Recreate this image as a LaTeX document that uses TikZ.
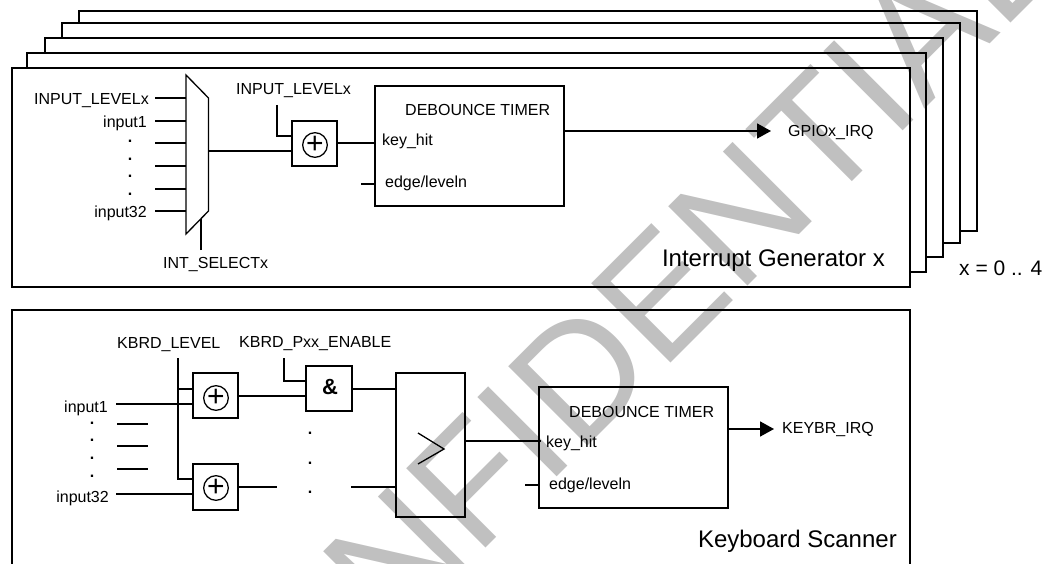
\documentclass[tikz,border=0pt]{standalone}
\usepackage{fontspec}
\setmainfont{Liberation Sans}
\usetikzlibrary{arrows.meta, positioning}
\definecolor{stampgray}{HTML}{C0C0C0}

\begin{document}
\begin{tikzpicture}[
  x=1pt, y=-1pt,
  wire/.style={line width=1.7pt, line cap=butt},
  thinwire/.style={line width=1.3pt},
  box/.style={rectangle, draw, line width=1.7pt, inner sep=0pt, outer sep=0pt},
  xorbox/.style={box, minimum width=45pt, minimum height=45pt},
  xorsign/.style={circle, draw, line width=1.3pt, minimum size=24pt, inner sep=0pt},
  timerbox/.style={box, minimum width=189pt, minimum height=120pt},
  lbl/.style={inner sep=0pt, font=\fontsize{16}{18}\selectfont, text height=12pt, text depth=0pt},
  biglbl/.style={inner sep=0pt, font=\fontsize{24}{28}\selectfont},
  arrow/.style={wire, -{Triangle[length=14pt, width=15pt]}}
]
  \path[use as bounding box, clip] (0,0) rectangle (1044,564);

  % Watermark
  \node[text=stampgray, font=\fontsize{163}{180}\selectfont, rotate=45, inner sep=0pt, anchor=base west] (stamp) at (220,814) {CONFIDENTIAL};

  % Stack of generators
  \draw[wire] (27,68) -- (27,53) -- (926,53) -- (926,272) -- (910,272);
  \draw[wire] (45,53) -- (45,38) -- (943,38) -- (943,257) -- (926,257);
  \draw[wire] (62,38) -- (62,23) -- (960,23) -- (960,243) -- (943,243);
  \draw[wire] (79,23) -- (79,11) -- (977,11) -- (977,231) -- (960,231);
  \node[box, minimum width=898pt, minimum height=219pt, anchor=north west] (genbox) at (12,68) {};
  \node[biglbl, anchor=base east] (genlbl) at (885,266) {Interrupt Generator x};
  \node[inner sep=0pt, font=\fontsize{21}{24}\selectfont, anchor=base west] (rangelbl) at (959,275) {x = 0 .. 4};

  % Selector
  \coordinate (muxtl) at (186,75);
  \coordinate (muxtr) at (208.5,98);
  \coordinate (muxbr) at (208.5,211);
  \coordinate (muxbl) at (186,234);
  \coordinate (muxout) at (208.5,151);
  \draw[thinwire] (muxtl) -- (muxtr) -- (muxbr) -- (muxbl) -- cycle;
  \coordinate (in0) at (155,98);
  \coordinate (in1) at (155,121);
  \coordinate (in2) at (155,143);
  \coordinate (in3) at (155,166);
  \coordinate (in4) at (155,189);
  \coordinate (in5) at (155,211);
  \draw[wire] (in0) -- (in0 -| muxtl);
  \draw[wire] (in1) -- (in1 -| muxtl);
  \draw[wire] (in2) -- (in2 -| muxtl);
  \draw[wire] (in3) -- (in3 -| muxtl);
  \draw[wire] (in4) -- (in4 -| muxtl);
  \draw[wire] (in5) -- (in5 -| muxtl);
  \node[lbl, left=6pt of in0, yshift=-1pt] (in0lbl) {INPUT\_LEVELx};
  \node[lbl, left=8pt of in1, yshift=-1pt] (in1lbl) {input1};
  \node[lbl, left=8pt of in5, yshift=-1pt] (in5lbl) {input32};
  \node[lbl, anchor=base] (dot1) at (130,143) {\textbf{.}};
  \node[lbl, anchor=base] (dot2) at (130,161) {\textbf{.}};
  \node[lbl, anchor=base] (dot3) at (130,178) {\textbf{.}};
  \node[lbl, anchor=base] (dot4) at (130,196) {\textbf{.}};
  \coordinate (selend) at (201,250);
  \draw[wire] (selend) -- (201,219);
  \node[lbl, anchor=base west] (sellbl) at (163,269) {INT\_SELECTx};

  % Generator xor and timer
  \node[xorbox, anchor=north west] (xorgen) at (292,121) {};
  \node[xorsign] (xorgenc) at (315,145) {\fontsize{30}{30}\selectfont +};
  \node[lbl, anchor=base west] (levellbl) at (236,95) {INPUT\_LEVELx};
  \coordinate (levelend) at (277,105);
  \draw[wire] (levelend) |- (292,136);
  \draw[wire] (muxout) -- (muxout -| xorgen.west);
  \node[timerbox, anchor=north west] (timergen) at (375,86) {};
  \draw[wire] (xorgen.east |- 0,143) -- (timergen.west |- 0,143);
  \node[lbl, anchor=base west] (timergenlbl) at (405,116) {DEBOUNCE TIMER};
  \node[lbl, anchor=base west] (hitgenlbl) at (382,146) {key\_hit};
  \node[lbl, anchor=base west] (edgegenlbl) at (385,188) {edge/leveln};
  \coordinate (edgegen) at (361,184);
  \draw[wire] (edgegen) -- (edgegen -| timergen.west);
  \coordinate (irqgen) at (771,131);
  \draw[arrow] (irqgen -| timergen.east) -- (irqgen);
  \node[lbl, right=17pt of irqgen] (irqgenlbl) {GPIOx\_IRQ};

  % Keyboard scanner
  \draw[wire] (12,570) -- (12,310) -- (910,310) -- (910,570);
  \node[biglbl, anchor=base east] (kbdlbl) at (897,547) {Keyboard Scanner};
  \node[lbl, anchor=base west] (levelk) at (117,348) {KBRD\_LEVEL};
  \node[lbl, anchor=base west] (enablek) at (239,347) {KBRD\_Pxx\_ENABLE};

  \node[xorbox, anchor=north west] (xork1) at (193,373) {};
  \node[xorsign] (xork1c) at (216,398) {\fontsize{30}{30}\selectfont +};
  \node[xorbox, anchor=north west, minimum height=46pt] (xork2) at (193,464) {};
  \node[xorsign] (xork2c) at (216,488) {\fontsize{30}{30}\selectfont +};
  \coordinate (bus) at (178,358);
  \draw[wire] (bus) -- (178,479) -- (178,479 -| xork2.west);
  \draw[wire] (178,389) -- (178,389 -| xork1.west);
  \coordinate (ink1) at (116,404);
  \coordinate (ink2) at (116,494);
  \draw[wire] (ink1) -- (ink1 -| xork1.west);
  \draw[wire] (ink2) -- (ink2 -| xork2.west);
  \node[lbl, left=8pt of ink1, yshift=-2pt] (ink1lbl) {input1};
  \node[lbl, left=7pt of ink2, yshift=-2pt] (ink2lbl) {input32};
  \draw[wire] (117,424) -- (148,424);
  \draw[wire] (117,446) -- (148,446);
  \draw[wire] (117,469) -- (148,469);
  \node[lbl, anchor=base] (kdot1) at (92,424) {\textbf{.}};
  \node[lbl, anchor=base] (kdot2) at (92,441) {\textbf{.}};
  \node[lbl, anchor=base] (kdot3) at (92,459) {\textbf{.}};
  \node[lbl, anchor=base] (kdot4) at (92,477) {\textbf{.}};

  \node[box, minimum width=46pt, minimum height=45pt, anchor=north west] (andk) at (306,366) {};
  \node[inner sep=0pt, font=\fontsize{22}{24}\selectfont\bfseries, anchor=base] (andlbl) at (330,394) {\&};
  \draw[wire] (284,358) |- (andk.west |- 0,381);
  \draw[wire] (xork1.east |- 0,396) -- (andk.west |- 0,396);
  \node[lbl, anchor=base] (adot1) at (310,434) {\textbf{.}};
  \node[lbl, anchor=base] (adot2) at (310,464) {\textbf{.}};
  \node[lbl, anchor=base] (adot3) at (310,493) {\textbf{.}};

  \node[box, minimum width=69pt, minimum height=144pt, anchor=north west] (cmpk) at (396,373) {};
  \draw[thinwire] (418,433) -- (444,449) -- (418,464);
  \draw[wire] (andk.east |- 0,389) -- (cmpk.west |- 0,389);
  \coordinate (gapa) at (277,487);
  \coordinate (gapb) at (351,487);
  \draw[wire] (xork2.east |- gapa) -- (gapa);
  \draw[wire] (gapb) -- (gapb -| cmpk.west);

  \node[timerbox, minimum height=121pt, anchor=north west] (timerk) at (539,387) {};
  \draw[wire] (cmpk.east |- 0,441) -- (541,441);
  \node[lbl, anchor=base west] (timerklbl) at (569,417) {DEBOUNCE TIMER};
  \node[lbl, anchor=base west] (hitklbl) at (546,447) {key\_hit};
  \node[lbl, anchor=base west] (edgeklbl) at (549,489) {edge/leveln};
  \coordinate (edgek) at (525,485);
  \draw[wire] (edgek) -- (edgek -| timerk.west);
  \coordinate (irqk) at (774,429);
  \draw[arrow] (irqk -| timerk.east) -- (irqk);
  \node[lbl, anchor=base west] (irqklbl) at (782,433) {KEYBR\_IRQ};
\end{tikzpicture}
\end{document}
